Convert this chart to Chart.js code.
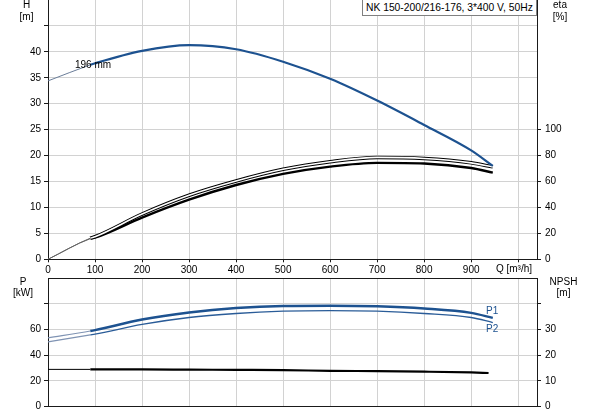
<!DOCTYPE html>
<html>
<head>
<meta charset="utf-8">
<script src="https://cdn.jsdelivr.net/npm/chart.js@4"></script>
<style>
body { margin: 0; background: #fff; }
#wrap { position: relative; width: 593px; height: 415px; overflow: hidden; }
canvas { position: absolute; left: 0; }
#c1 { top: 0; }
#c2 { top: 277px; }
#title {
    position: absolute; left: 362px; top: -1px; width: 170px; height: 15px;
    border: 1px solid #808080; background: #fff; padding-left: 3px;
    font: 10.3px "Liberation Sans", Arial, sans-serif; line-height: 16px; color: #000;
    white-space: nowrap;
}
</style>
</head>
<body>
<div id="wrap">
<canvas id="c1" width="593" height="277"></canvas>
<canvas id="c2" width="593" height="138"></canvas>
<div id="title">NK 150-200/216-176, 3*400 V, 50Hz</div>
</div>
<script>
// Pump curves, flow in m³/h
const flow = [0, 90, 100, 200, 300, 400, 500, 600, 700, 800, 900, 946]
const head = [34.4, 37.5, 37.8, 40.2, 41.3, 40.5, 38.1, 34.8, 30.6, 25.9, 21.0, 18.0]
const eta1 = [0, 16.3, 17.4, 34.9, 49.4, 60.4, 69.4, 75.3, 78.6, 77.8, 74.4, 71.3]
const eta2 = [0, 15.9, 16.7, 32.2, 46.0, 57.3, 65.9, 71.5, 74.4, 73.9, 70.4, 66.8]
const powerP1 = [53.5, 58.8, 59.5, 67.7, 73.2, 76.7, 78.3, 78.5, 78.0, 76.3, 72.9, 69.0]
const powerP2 = [50.4, 55.8, 56.4, 63.9, 69.3, 72.4, 74.2, 74.7, 74.2, 72.4, 69.3, 65.4]
const npshFlow = [0, 90, 100, 200, 300, 400, 500, 600, 700, 800, 900, 937]
const npsh = [14.5, 14.5, 14.5, 14.5, 14.4, 14.3, 14.2, 13.95, 13.8, 13.6, 13.3, 13.1]

// curves are drawn thin below this flow
const THIN_UNTIL = 90

const GRID = '#d2d2d2'
const AXIS = '#1a1a1a'
const BLUE = '#1d5290'
const FONT = '"Liberation Sans", Arial, sans-serif'

Chart.defaults.font.family = FONT
Chart.defaults.font.size = 10
Chart.defaults.color = '#000'

function points(xs, ys) {
    return xs.map((x, i) => ({ x: x, y: ys[i] }))
}

function thin(thinValue, thickValue) {
    return ctx => ctx.p0.parsed.x < THIN_UNTIL ? thinValue : thickValue
}

function fixWidth(w) {
    return scale => { scale.width = w; scale.paddingTop = 0; scale.paddingBottom = 0 }
}

function fixHeight(h) {
    return scale => { scale.height = h; scale.paddingLeft = 0; scale.paddingRight = 0 }
}

// draws the loose text labels (axis units, curve names)
const textPlugin = {
    id: 'texts',
    afterDraw(chart, args, opts) {
        const ctx = chart.ctx
        ctx.save()
        ctx.font = '10px ' + FONT
        ctx.textBaseline = 'middle'
        opts.items.forEach(t => {
            ctx.fillStyle = t.color || '#000'
            ctx.textAlign = t.align || 'center'
            ctx.fillText(t.text, t.x, t.y)
        })
        ctx.restore()
    }
}

function lineSet(label, data, axis, color, width, extra) {
    return Object.assign({
        label: label,
        data: data,
        yAxisID: axis,
        borderColor: color,
        borderWidth: width,
        pointRadius: 0,
        fill: false,
        cubicInterpolationMode: 'monotone'
    }, extra || {})
}

// top chart: head and efficiency
new Chart(document.getElementById('c1'), {
    type: 'line',
    data: {
        datasets: [
            lineSet('H', points(flow, head), 'y', BLUE, 2.2, {
                order: 0,
                segment: { borderWidth: thin(1, 2.2), borderColor: thin('#6a7d99', BLUE) }
            }),
            lineSet('eta1 inner', points(flow, eta1), 'eta', '#fff', 1.6, {
                order: 1,
                segment: { borderColor: thin('rgba(0,0,0,0)', '#fff') }
            }),
            lineSet('eta1', points(flow, eta1), 'eta', '#000', 3.5, {
                order: 2,
                segment: { borderWidth: thin(1, 3.5), borderColor: thin('#666', '#000') }
            }),
            lineSet('eta2', points(flow, eta2), 'eta', '#000', 2.4, {
                order: 3,
                segment: { borderWidth: thin(1, 2.4), borderColor: thin('#666', '#000') }
            })
        ]
    },
    options: {
        responsive: false,
        animation: false,
        layout: { padding: 0 },
        plugins: {
            legend: { display: false },
            tooltip: { enabled: false },
            texts: {
                items: [
                    { text: 'H', x: 26.5, y: 5 },
                    { text: '[m]', x: 26.5, y: 17 },
                    { text: 'eta', x: 560, y: 5 },
                    { text: '[%]', x: 560, y: 17 },
                    { text: 'Q [m³/h]', x: 514, y: 269 },
                    { text: '196 mm', x: 75, y: 65, align: 'left' }
                ]
            }
        },
        scales: {
            x: {
                type: 'linear', min: 0, max: 1040,
                afterFit: fixHeight(17.7),
                ticks: {
                    stepSize: 100, includeBounds: false, autoSkip: false, maxRotation: 0, padding: 2,
                    callback: v => v <= 900 ? v : ''
                },
                grid: { color: GRID, tickLength: 3, tickColor: AXIS },
                border: { color: AXIS }
            },
            y: {
                position: 'left', min: 0, max: 50,
                afterFit: fixWidth(48),
                ticks: { stepSize: 5, autoSkip: false, padding: 3, callback: v => v <= 40 ? v : '' },
                grid: {
                    color: c => c.tick && c.tick.value >= 50 ? 'rgba(0,0,0,0)' : GRID,
                    tickLength: 4,
                    tickColor: c => c.tick && c.tick.value >= 50 ? 'rgba(0,0,0,0)' : AXIS
                },
                border: { color: AXIS }
            },
            eta: {
                position: 'right', min: 0, max: 200,
                afterFit: fixWidth(56),
                ticks: { stepSize: 20, autoSkip: false, padding: 4, callback: v => v <= 100 ? v : '' },
                grid: {
                    drawOnChartArea: false,
                    tickLength: 4,
                    tickColor: c => c.tick && c.tick.value <= 100 ? AXIS : 'rgba(0,0,0,0)'
                },
                border: { color: AXIS }
            }
        }
    },
    plugins: [textPlugin]
})

// bottom chart: power and NPSH
new Chart(document.getElementById('c2'), {
    type: 'line',
    data: {
        datasets: [
            lineSet('P1', points(flow, powerP1), 'p', BLUE, 2.5, {
                order: 0,
                segment: { borderWidth: thin(1.2, 2.5), borderColor: thin('#7f93b3', BLUE) }
            }),
            lineSet('P2', points(flow, powerP2), 'p', '#2a5c98', 1.3, {
                order: 1,
                segment: { borderColor: thin('#7f93b3', '#2a5c98') }
            }),
            lineSet('NPSH', points(npshFlow, npsh), 'npsh', '#000', 2.2, {
                order: 2,
                segment: { borderWidth: thin(1, 2.2) }
            })
        ]
    },
    options: {
        responsive: false,
        animation: false,
        layout: { padding: { top: 1 } },
        plugins: {
            legend: { display: false },
            tooltip: { enabled: false },
            texts: {
                items: [
                    { text: 'P', x: 23, y: 5 },
                    { text: '[kW]', x: 23, y: 16 },
                    { text: 'NPSH', x: 563.5, y: 5 },
                    { text: '[m]', x: 563.5, y: 16 },
                    { text: 'P1', x: 486, y: 34.7, align: 'left', color: BLUE },
                    { text: 'P2', x: 486, y: 52, align: 'left', color: BLUE }
                ]
            }
        },
        scales: {
            x: {
                type: 'linear', min: 0, max: 1040,
                afterFit: fixHeight(8.3),
                ticks: { stepSize: 100, includeBounds: false, display: false },
                grid: { color: GRID, tickLength: 0 },
                border: { color: AXIS }
            },
            p: {
                position: 'left', min: 0, max: 100,
                afterFit: fixWidth(48),
                ticks: { stepSize: 20, autoSkip: false, padding: 3, callback: v => v <= 60 ? v : '' },
                grid: {
                    color: c => c.tick && c.tick.value >= 100 ? AXIS : GRID,
                    tickLength: 4,
                    tickColor: c => c.tick && c.tick.value >= 100 ? 'rgba(0,0,0,0)' : AXIS
                },
                border: { color: AXIS }
            },
            npsh: {
                position: 'right', min: 0, max: 50,
                afterFit: fixWidth(56),
                ticks: { stepSize: 10, autoSkip: false, padding: 4, callback: v => v <= 30 ? v : '' },
                grid: {
                    drawOnChartArea: false,
                    tickLength: 4,
                    tickColor: c => c.tick && c.tick.value <= 40 ? AXIS : 'rgba(0,0,0,0)'
                },
                border: { color: AXIS }
            }
        }
    },
    plugins: [textPlugin]
})
</script>
</body>
</html>
